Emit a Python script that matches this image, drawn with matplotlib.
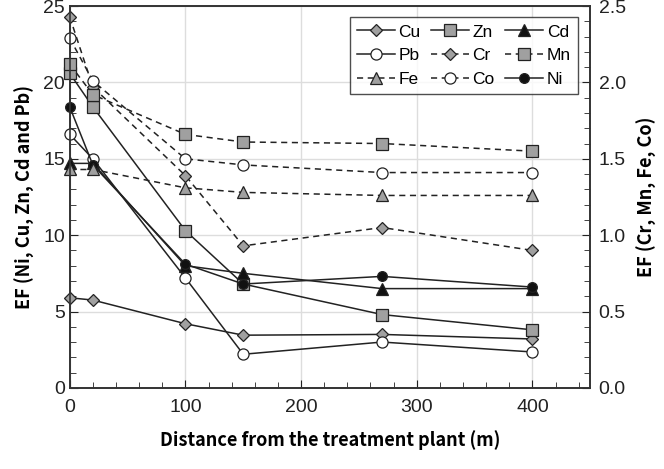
import numpy as np
import matplotlib.pyplot as plt
from matplotlib.ticker import MultipleLocator

plt.rcParams['font.family'] = ['Liberation Sans', 'DejaVu Sans']

# distance from the treatment plant (m)
dist = [0, 20, 100, 150, 270, 400]

# left axis: Ni, Cu, Zn, Cd, Pb
cu = [5.9, 5.75, 4.2, 3.45, 3.5, 3.2]
zn = [20.6, 18.4, 10.3, 6.8, 4.8, 3.8]
cd = [14.7, 14.7, 8.0, 7.5, 6.5, 6.5]
pb = [16.6, 15.0, 7.2, 2.2, 3.0, 2.35]
ni = [18.4, 14.6, 8.1, 6.8, 7.3, 6.6]

# right axis: Cr, Mn, Fe, Co
cr = [2.43, 1.97, 1.39, 0.93, 1.05, 0.90]
mn = [2.12, 1.92, 1.66, 1.61, 1.60, 1.55]
fe = [1.43, 1.43, 1.31, 1.28, 1.26, 1.26]
co = [2.29, 2.01, 1.50, 1.46, 1.41, 1.41]

GRAY = '#a0a0a0'
LABEL_FONT = ['Noto Sans CJK JP', 'DejaVu Sans']

fig = plt.figure(figsize=(6.64, 4.69), dpi=100)
ax = fig.add_axes([0.105, 0.173, 0.784, 0.814])
ax2 = ax.twinx()

ms = 8
lw = 1.1
common = dict(color='#222222', lw=lw, mec='#222222', mew=0.9, clip_on=False)

handles = {}
handles['Cu'], = ax.plot(dist, cu, marker='D', ms=6.5, mfc=GRAY, ls='-', label='Cu', zorder=5, **common)
handles['Zn'], = ax.plot(dist, zn, marker='s', ms=ms, mfc=GRAY, ls='-', label='Zn', zorder=5, **common)
handles['Cd'], = ax.plot(dist, cd, marker='^', ms=ms, mfc='#111111', ls='-', label='Cd', zorder=5, **common)
handles['Pb'], = ax.plot(dist, pb, marker='o', ms=ms, mfc='white', ls='-', label='Pb', zorder=5, **common)
handles['Ni'], = ax.plot(dist, ni, marker='o', ms=7, mfc='#111111', ls='-', label='Ni', zorder=5, **common)

dash = (0, (4, 3))
handles['Cr'], = ax2.plot(dist, cr, marker='D', ms=6.5, mfc=GRAY, ls=dash, label='Cr', **common)
handles['Mn'], = ax2.plot(dist, mn, marker='s', ms=ms, mfc=GRAY, ls=dash, label='Mn', **common)
handles['Fe'], = ax2.plot(dist, fe, marker='^', ms=ms, mfc=GRAY, ls=dash, label='Fe', **common)
handles['Co'], = ax2.plot(dist, co, marker='o', ms=ms, mfc='white', ls=dash, label='Co', **common)

ax.set_xlim(0, 450)
ax.set_ylim(0, 25)
ax2.set_ylim(0, 2.5)

ax.xaxis.set_major_locator(MultipleLocator(100))
ax.xaxis.set_minor_locator(MultipleLocator(20))
ax.yaxis.set_major_locator(MultipleLocator(5))
ax.yaxis.set_minor_locator(MultipleLocator(1))
ax2.yaxis.set_major_locator(MultipleLocator(0.5))
ax2.yaxis.set_minor_locator(MultipleLocator(0.1))
ax2.yaxis.set_major_formatter(plt.FormatStrFormatter('%.1f'))

ax.grid(True, which='major', color='#dddddd', lw=1.0)
ax.set_axisbelow(True)

for a in (ax, ax2):
    a.tick_params(which='both', direction='in', labelsize=14, colors='#222222')
    a.tick_params(which='major', length=6)
    a.tick_params(which='minor', length=4)
    for s in a.spines.values():
        s.set_color('#333333')
        s.set_linewidth(1.2)
ax.tick_params(axis='x', pad=8)
ax2.tick_params(axis='y', pad=6)

ax.set_xlabel('Distance from the treatment plant (m)', fontsize=13, fontweight='bold',
              labelpad=10, family=LABEL_FONT)
ax.set_ylabel('EF (Ni, Cu, Zn, Cd and Pb)', fontsize=13, fontweight='bold',
              labelpad=6, family=LABEL_FONT)
ax2.set_ylabel('EF (Cr, Mn, Fe, Co)', fontsize=13, fontweight='bold',
               labelpad=8, family=LABEL_FONT)

order = ['Cu', 'Pb', 'Fe', 'Zn', 'Cr', 'Co', 'Cd', 'Mn', 'Ni']
leg = ax2.legend([handles[k] for k in order], order, ncol=3, loc='upper right',
                 bbox_to_anchor=(0.993, 0.993), fontsize=12.5, frameon=True, fancybox=False,
                 edgecolor='#222222', handlelength=2.2, columnspacing=0.6,
                 handletextpad=0.2, labelspacing=0.5, borderpad=0.4)
leg.get_frame().set_linewidth(1.0)
leg.set_zorder(10)

fig.savefig('out.png', dpi=100)
